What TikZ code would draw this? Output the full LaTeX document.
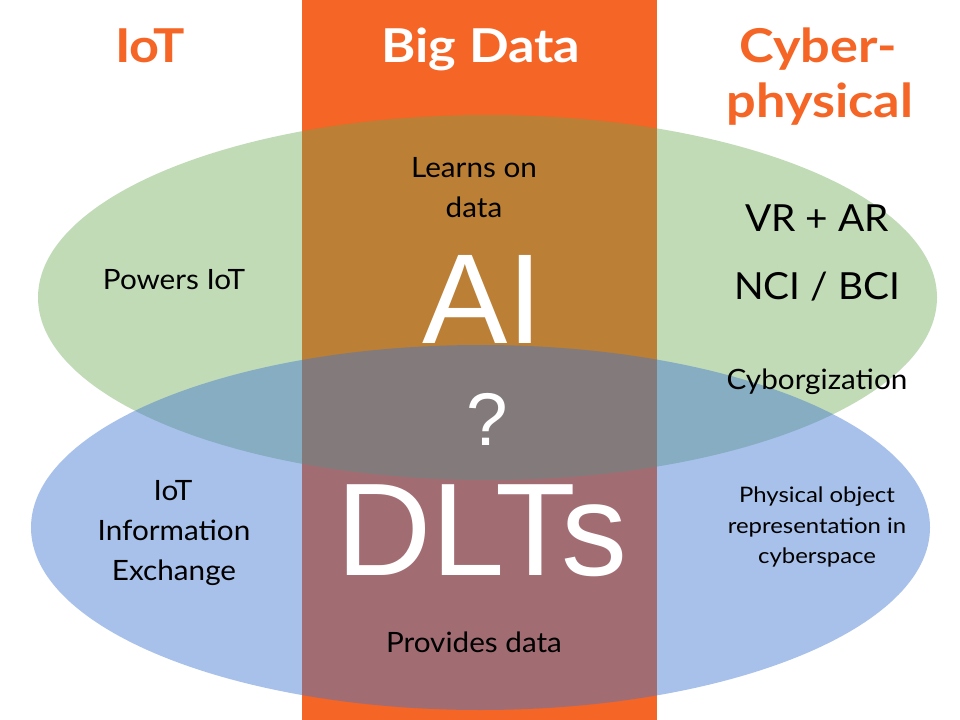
\documentclass[tikz,border=0pt]{standalone}
\usepackage{fontspec}
\setmainfont{Lato}
\newfontfamily\arialfont{Liberation Sans}
\newfontfamily\latobody[FakeStretch=1.06]{Lato}
\newfontfamily\latobig[FakeStretch=1.04]{Lato}
\newfontfamily\latosmall[FakeStretch=1.12]{Lato}
\newfontfamily\latohead[FakeStretch=1.12]{Lato Bold}
\definecolor{bandorange}{RGB}{244,101,38}
\definecolor{ellgreen}{RGB}{102,167,77}
\definecolor{ellblue}{RGB}{64,118,209}
\tikzset{
  lbl/.style={anchor=base,inner sep=0pt,text=black},
  head/.style={anchor=base,inner sep=0pt,font=\fontsize{35}{35}\selectfont\latohead},
  body/.style={lbl,font=\fontsize{21}{21}\selectfont\latobody},
  bigbody/.style={lbl,font=\fontsize{28}{28}\selectfont\latobig},
  smallbody/.style={lbl,font=\fontsize{16}{16}\selectfont\latosmall},
  huge/.style={anchor=base,inner sep=0pt,text=white,font=\fontsize{96}{96}\selectfont\arialfont},
}
\begin{document}
\begin{tikzpicture}[x=0.75pt,y=-0.75pt]
\useasboundingbox (0,0) rectangle (960,720);
\fill[white] (0,0) rectangle (960,720);
% orange band
\fill[bandorange] (302,0) rectangle (657,720);
% ellipses
\fill[ellgreen,fill opacity=0.4] (487.5,297.5) ellipse [x radius=449.5, y radius=182.5];
\fill[ellblue,fill opacity=0.45] (480.5,527.5) ellipse [x radius=449.5, y radius=182.5];
% headings
\node[head,text=bandorange] (hiot) at (150,63) {IoT};
\node[head,text=white] (hbig) at (481,63) {Big Data};
\node[head,text=bandorange] (hcyb1) at (818,63) {Cyber-};
\node[head,text=bandorange] (hcyb2) at (820,118) {physical};
% center texts
\node[body] (learn1) at (474,178) {Learns on};
\node[body] (learn2) at (474,218) {data};
\node[huge] (ai) at (483,343) {AI};
\node[anchor=base,inner sep=0pt,text=white,font=\fontsize{56}{56}\selectfont\arialfont] (q) at (487,445) {?};
\node[huge,font=\fontsize{99}{99}\selectfont\arialfont] (dlts) at (482,575) {DLTs};
\node[body] (prov) at (474,652) {Provides data};
% left texts
\node[body] (powers) at (174,290) {Powers IoT};
\node[body] (iot1) at (173,500) {IoT};
\node[body] (iot2) at (174,540) {Information};
\node[body] (iot3) at (174,580) {Exchange};
% right texts
\node[bigbody] (vr) at (817,232) {VR + AR};
\node[bigbody] (nci) at (817,300) {NCI / BCI};
\node[body] (cyborg) at (817,389) {Cyborgization};
\node[smallbody] (phys1) at (817,502) {Physical object};
\node[smallbody] (phys2) at (817,533) {representation in};
\node[smallbody] (phys3) at (817,563) {cyberspace};
\end{tikzpicture}
\end{document}
